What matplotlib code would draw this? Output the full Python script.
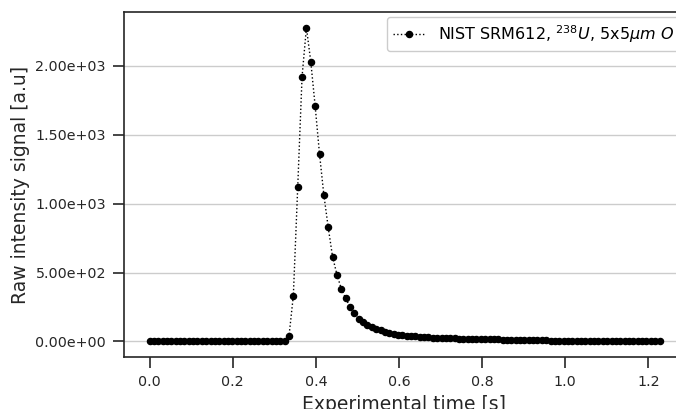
import numpy as np
import matplotlib
matplotlib.use("Agg")
import matplotlib.pyplot as plt

# time step (118 samples up to ~1.227 s)
dt = 1.2266 / 117

signal = [2, 1, 2, 1, 1, 2, 1, 2, 1, 1, 2, 1, 1, 2, 1, 1, 2, 1, 2, 1, 1, 2, 1, 1, 2, 1, 1, 2, 1, 2, 3, 5,
          38, 333, 1118, 1923, 2278, 2031, 1710, 1362, 1063, 828, 614, 486, 382, 314, 251, 208, 162,
          140, 123, 106, 92, 80, 72, 63, 51,
          47, 44, 41, 38, 36, 33, 31, 29, 27, 26,
          25, 24, 23, 22, 21, 20, 19, 18, 18, 17,
          16, 16, 15, 15, 14, 14, 13, 13, 12, 12,
          12, 11, 11, 10,
          7, 6, 6, 6, 6, 5, 5, 5, 5, 5, 5, 4, 4, 4, 4, 4, 4, 4, 4, 3, 3, 3, 3, 3, 3, 3, 3]
time = np.arange(len(signal)) * dt

label = r"NIST SRM612, $^{238}U$, 5x5$\mu m$ $O$"
xticks = [0.0, 0.2, 0.4, 0.6, 0.8, 1.0, 1.2]
yticks = [0, 500, 1000, 1500, 2000]

fig = plt.figure(figsize=(6.76, 4.09), dpi=100)
ax = fig.add_axes([124 / 676, 52 / 409, 561 / 676, 345 / 409])

ax.plot(time, signal, ls=":", lw=1, color="black", marker="o", ms=4.4, label=label)

ax.set_xticks(xticks)
ax.set_yticks(yticks)
ax.yaxis.set_major_formatter(matplotlib.ticker.FormatStrFormatter("%.2e"))
ax.grid(axis="y", color="#cccccc", lw=1)
ax.set_axisbelow(True)
for s in ax.spines.values():
    s.set_color("#262626")
    s.set_linewidth(1.2)
ax.tick_params(length=8, width=1.2, colors="#262626", labelsize=10.3, pad=5)
ax.set_xlabel("Experimental time [s]", fontsize=13.5, color="#262626", labelpad=4)
ax.set_ylabel("Raw intensity signal [a.u]", fontsize=13.5, color="#262626", labelpad=4)
ax.legend(loc="upper right", fontsize=11.5, framealpha=1, edgecolor="#cccccc",
          borderaxespad=0.3)

fig.savefig("out.png", dpi=100)
